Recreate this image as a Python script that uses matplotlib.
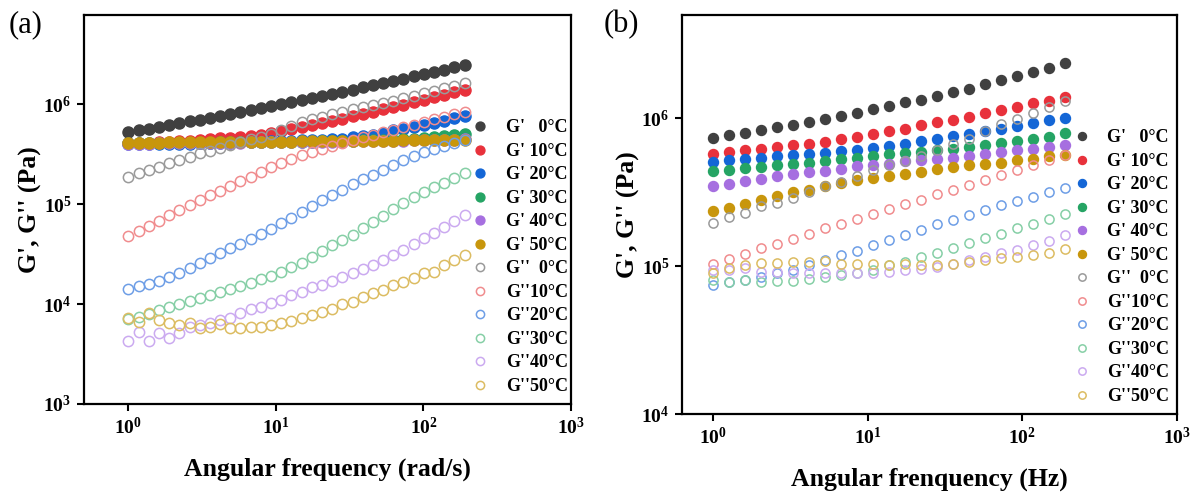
import numpy as np
import matplotlib
matplotlib.use("Agg")
import matplotlib.pyplot as plt
from matplotlib.ticker import FuncFormatter, LogLocator, NullLocator

plt.rcParams['font.family'] = 'Liberation Serif'
plt.rcParams['mathtext.fontset'] = 'custom'
plt.rcParams['mathtext.rm'] = 'Liberation Serif'
plt.rcParams['mathtext.bf'] = 'Liberation Serif:bold'

# frequency points (a: rad/s, b: Hz)
freq_a = [1.00, 1.172, 1.374, 1.611, 1.889, 2.214, 2.596, 3.044, 3.568, 4.183,
          4.904, 5.749, 6.740, 7.902, 9.262, 10.86, 12.73, 14.93, 17.50, 20.51,
          24.04, 28.19, 33.05, 38.74, 45.42, 53.25, 62.42, 73.18, 85.79, 100.6,
          117.9, 138.2, 162.0, 190.0]
freq_b = [1.00, 1.269, 1.611, 2.045, 2.596, 3.296, 4.183, 5.310, 6.741, 8.554,
          10.86, 13.79, 17.50, 22.21, 28.19, 35.78, 45.42, 57.66, 73.18, 92.90,
          117.9, 149.7, 190.0]

# panel (a) storage modulus G'
a_gp_0 = [5.25e5, 5.46e5, 5.69e5, 5.93e5, 6.18e5, 6.44e5, 6.71e5, 7.00e5, 7.31e5, 7.64e5,
          7.98e5, 8.35e5, 8.73e5, 9.14e5, 9.55e5, 1.00e6, 1.05e6, 1.10e6, 1.15e6, 1.21e6,
          1.27e6, 1.33e6, 1.40e6, 1.47e6, 1.55e6, 1.63e6, 1.71e6, 1.80e6, 1.90e6, 2.00e6,
          2.11e6, 2.22e6, 2.35e6, 2.48e6]
a_gp_10 = [4.07e5, 4.07e5, 4.12e5, 4.17e5, 4.22e5, 4.27e5, 4.32e5, 4.37e5, 4.47e5, 4.57e5,
           4.62e5, 4.71e5, 4.81e5, 4.95e5, 5.19e5, 5.43e5, 5.69e5, 5.96e5, 6.24e5, 6.53e5,
           6.84e5, 7.16e5, 7.59e5, 7.98e5, 8.41e5, 8.91e5, 9.38e5, 9.89e5, 1.05e6, 1.11e6,
           1.17e6, 1.24e6, 1.32e6, 1.38e6]
a_gp_20 = [3.98e5, 3.98e5, 3.98e5, 3.98e5, 4.00e5, 4.02e5, 4.04e5, 4.06e5, 4.07e5, 4.09e5,
           4.12e5, 4.15e5, 4.18e5, 4.21e5, 4.24e5, 4.27e5, 4.30e5, 4.33e5, 4.37e5, 4.41e5,
           4.45e5, 4.53e5, 4.65e5, 4.76e5, 4.90e5, 5.19e5, 5.50e5, 5.69e5, 5.89e5, 6.17e5,
           6.46e5, 6.84e5, 7.24e5, 7.67e5]
a_gp_30 = [4.05e5, 4.06e5, 4.07e5, 4.08e5, 4.09e5, 4.10e5, 4.11e5, 4.12e5, 4.13e5, 4.14e5,
           4.15e5, 4.16e5, 4.17e5, 4.18e5, 4.19e5, 4.20e5, 4.21e5, 4.22e5, 4.23e5, 4.24e5,
           4.26e5, 4.28e5, 4.30e5, 4.33e5, 4.36e5, 4.39e5, 4.42e5, 4.44e5, 4.50e5, 4.57e5,
           4.65e5, 4.76e5, 4.90e5, 5.07e5]
a_gp_40 = [4.02e5, 4.03e5, 4.04e5, 4.05e5, 4.06e5, 4.07e5, 4.08e5, 4.09e5, 4.10e5, 4.11e5,
           4.12e5, 4.13e5, 4.14e5, 4.15e5, 4.16e5, 4.17e5, 4.18e5, 4.19e5, 4.20e5, 4.21e5,
           4.22e5, 4.23e5, 4.24e5, 4.25e5, 4.26e5, 4.28e5, 4.30e5, 4.32e5, 4.34e5, 4.36e5,
           4.38e5, 4.40e5, 4.43e5, 4.46e5]
a_gp_50 = [4.10e5, 4.11e5, 4.12e5, 4.13e5, 4.14e5, 4.15e5, 4.16e5, 4.17e5, 4.18e5, 4.19e5,
           4.20e5, 4.21e5, 4.21e5, 4.22e5, 4.22e5, 4.23e5, 4.23e5, 4.24e5, 4.24e5, 4.25e5,
           4.26e5, 4.27e5, 4.28e5, 4.29e5, 4.30e5, 4.31e5, 4.32e5, 4.33e5, 4.34e5, 4.36e5,
           4.37e5, 4.39e5, 4.41e5, 4.43e5]

# panel (a) loss modulus G''
a_gpp_0 = [1.88e5, 2.03e5, 2.20e5, 2.37e5, 2.55e5, 2.75e5, 2.99e5, 3.21e5, 3.43e5, 3.67e5,
           3.94e5, 4.20e5, 4.44e5, 4.73e5, 5.07e5, 5.56e5, 6.10e5, 6.61e5, 7.08e5, 7.50e5,
           7.94e5, 8.38e5, 8.91e5, 9.40e5, 9.77e5, 1.02e6, 1.08e6, 1.14e6, 1.21e6, 1.28e6,
           1.36e6, 1.44e6, 1.52e6, 1.61e6]
a_gpp_10 = [4.79e4, 5.43e4, 6.10e4, 6.84e4, 7.76e4, 8.81e4, 9.77e4, 1.10e5, 1.22e5, 1.36e5,
            1.51e5, 1.70e5, 1.88e5, 2.10e5, 2.33e5, 2.60e5, 2.85e5, 3.09e5, 3.31e5, 3.55e5,
            3.80e5, 4.07e5, 4.37e5, 4.65e5, 4.95e5, 5.25e5, 5.56e5, 5.89e5, 6.24e5, 6.61e5,
            7.03e5, 7.46e5, 7.94e5, 8.38e5]
a_gpp_20 = [1.40e4, 1.50e4, 1.58e4, 1.71e4, 1.85e4, 2.06e4, 2.30e4, 2.55e4, 2.86e4, 3.21e4,
            3.61e4, 3.98e4, 4.44e4, 5.01e4, 5.62e4, 6.41e4, 7.33e4, 8.38e4, 9.55e4, 1.10e5,
            1.23e5, 1.40e5, 1.58e5, 1.77e5, 1.97e5, 2.19e5, 2.45e5, 2.74e5, 3.02e5, 3.31e5,
            3.59e5, 3.85e5, 4.12e5, 4.37e5]
a_gpp_30 = [7.16e3, 7.50e3, 8.04e3, 8.71e3, 9.44e3, 1.00e4, 1.07e4, 1.14e4, 1.23e4, 1.33e4,
            1.43e4, 1.51e4, 1.63e4, 1.78e4, 1.91e4, 2.10e4, 2.34e4, 2.60e4, 2.97e4, 3.43e4,
            3.89e4, 4.37e4, 4.95e4, 5.82e4, 6.65e4, 7.67e4, 8.85e4, 1.02e5, 1.17e5, 1.33e5,
            1.47e5, 1.63e5, 1.81e5, 2.03e5]
a_gpp_40 = [4.30e3, 5.28e3, 4.30e3, 5.16e3, 4.54e3, 5.09e3, 5.93e3, 6.17e3, 6.41e3, 6.92e3,
            7.19e3, 8.07e3, 8.85e3, 9.40e3, 1.03e4, 1.10e4, 1.23e4, 1.33e4, 1.47e4, 1.55e4,
            1.71e4, 1.88e4, 2.06e4, 2.22e4, 2.45e4, 2.75e4, 3.09e4, 3.47e4, 3.98e4, 4.54e4,
            5.09e4, 5.85e4, 6.81e4, 7.76e4]
a_gpp_50 = [7.19e3, 6.65e3, 8.07e3, 6.92e3, 6.41e3, 6.17e3, 6.41e3, 5.71e3, 5.93e3, 6.31e3,
            5.71e3, 5.71e3, 5.85e3, 5.93e3, 6.17e3, 6.41e3, 6.81e3, 7.19e3, 7.76e3, 8.38e3,
            8.85e3, 1.00e4, 1.05e4, 1.17e4, 1.28e4, 1.38e4, 1.55e4, 1.67e4, 1.81e4, 2.03e4,
            2.10e4, 2.45e4, 2.75e4, 3.09e4]

# panel (b) storage modulus G'
b_gp_0 = [7.36e5, 7.68e5, 8.00e5, 8.34e5, 8.69e5, 9.06e5, 9.50e5, 9.89e5, 1.04e6, 1.09e6,
          1.15e6, 1.21e6, 1.28e6, 1.34e6, 1.42e6, 1.51e6, 1.59e6, 1.70e6, 1.81e6, 1.92e6,
          2.06e6, 2.20e6, 2.37e6]
b_gp_10 = [5.78e5, 5.92e5, 6.08e5, 6.24e5, 6.40e5, 6.60e5, 6.75e5, 6.96e5, 7.24e5, 7.50e5,
           7.86e5, 8.20e5, 8.53e5, 8.97e5, 9.40e5, 9.80e5, 1.02e6, 1.08e6, 1.13e6, 1.19e6,
           1.26e6, 1.32e6, 1.39e6]
b_gp_20 = [5.07e5, 5.20e5, 5.34e5, 5.43e5, 5.54e5, 5.68e5, 5.78e5, 5.86e5, 6.01e5, 6.15e5,
           6.34e5, 6.54e5, 6.75e5, 7.05e5, 7.29e5, 7.56e5, 7.88e5, 8.21e5, 8.52e5, 8.83e5,
           9.29e5, 9.69e5, 1.01e6]
b_gp_30 = [4.41e5, 4.50e5, 4.64e5, 4.69e5, 4.81e5, 4.94e5, 4.99e5, 5.12e5, 5.28e5, 5.43e5,
           5.54e5, 5.71e5, 5.83e5, 5.94e5, 6.08e5, 6.24e5, 6.40e5, 6.57e5, 6.78e5, 6.99e5,
           7.21e5, 7.50e5, 7.92e5]
b_gp_40 = [3.47e5, 3.62e5, 3.75e5, 3.91e5, 4.06e5, 4.18e5, 4.34e5, 4.42e5, 4.57e5, 4.74e5,
           4.81e5, 4.94e5, 5.12e5, 5.20e5, 5.34e5, 5.43e5, 5.54e5, 5.71e5, 5.92e5, 6.08e5,
           6.24e5, 6.40e5, 6.57e5]
b_gp_50 = [2.36e5, 2.49e5, 2.65e5, 2.82e5, 2.99e5, 3.15e5, 3.30e5, 3.47e5, 3.65e5, 3.81e5,
           3.95e5, 4.08e5, 4.18e5, 4.35e5, 4.52e5, 4.69e5, 4.81e5, 4.89e5, 4.99e5, 5.20e5,
           5.34e5, 5.54e5, 5.62e5]

# panel (b) loss modulus G''
b_gpp_0 = [1.97e5, 2.15e5, 2.29e5, 2.54e5, 2.69e5, 2.91e5, 3.18e5, 3.47e5, 3.71e5, 4.06e5,
           4.45e5, 4.81e5, 5.16e5, 5.58e5, 6.08e5, 6.67e5, 7.29e5, 8.17e5, 9.11e5, 9.95e5,
           1.09e6, 1.19e6, 1.32e6]
b_gpp_10 = [1.03e5, 1.11e5, 1.21e5, 1.32e5, 1.41e5, 1.53e5, 1.66e5, 1.80e5, 1.94e5, 2.10e5,
            2.27e5, 2.43e5, 2.62e5, 2.82e5, 3.07e5, 3.30e5, 3.53e5, 3.81e5, 4.12e5, 4.45e5,
            4.81e5, 5.20e5, 5.62e5]
b_gpp_20 = [7.44e4, 7.83e4, 8.04e4, 8.47e4, 9.01e4, 9.40e4, 1.02e5, 1.10e5, 1.19e5, 1.27e5,
            1.39e5, 1.50e5, 1.62e5, 1.75e5, 1.92e5, 2.05e5, 2.21e5, 2.39e5, 2.58e5, 2.76e5,
            2.94e5, 3.18e5, 3.40e5]
b_gpp_30 = [8.04e4, 7.83e4, 8.04e4, 7.83e4, 7.92e4, 7.96e4, 8.13e4, 8.39e4, 8.69e4, 8.97e4,
            9.40e4, 1.02e5, 1.07e5, 1.16e5, 1.23e5, 1.32e5, 1.44e5, 1.54e5, 1.66e5, 1.80e5,
            1.93e5, 2.10e5, 2.27e5]
b_gpp_40 = [9.40e4, 9.40e4, 9.65e4, 9.15e4, 9.15e4, 9.01e4, 9.01e4, 9.01e4, 8.93e4, 9.01e4,
            9.01e4, 9.15e4, 9.40e4, 9.50e4, 9.89e4, 1.04e5, 1.10e5, 1.16e5, 1.23e5, 1.28e5,
            1.39e5, 1.48e5, 1.62e5]
b_gpp_50 = [9.01e4, 9.65e4, 1.02e5, 1.05e5, 1.05e5, 1.07e5, 1.07e5, 1.09e5, 1.04e5, 1.04e5,
            1.04e5, 1.02e5, 1.04e5, 1.02e5, 1.02e5, 1.04e5, 1.07e5, 1.10e5, 1.13e5, 1.15e5,
            1.19e5, 1.22e5, 1.30e5]

gp_labels = ["G'   0\u00b0C", "G' 10\u00b0C", "G' 20\u00b0C", "G' 30\u00b0C", "G' 40\u00b0C", "G' 50\u00b0C"]
gpp_labels = ["G''  0\u00b0C", "G''10\u00b0C", "G''20\u00b0C", "G''30\u00b0C", "G''40\u00b0C", "G''50\u00b0C"]
gp_colors = ['#404040', '#e8313b', '#1466d6', '#25a464', '#a66fe0', '#c8960c']
gpp_colors = ['#9a9a9a', '#f08c8e', '#6e9ee6', '#86cfa6', '#cbaaf0', '#dcbc62']


def tick_fmt(v, pos):
    return r'$\mathbf{10^{%d}}$' % int(round(np.log10(v)))


def draw_panel(ax, freq, gp, gpp, ylim, xlim, xlabel, ms, leg_anchor, xpad):
    for y, c, lab in zip(gp, gp_colors, gp_labels):
        ax.plot(freq, y, 'o', color=c, ms=ms, mec=c, label=lab)
    for y, c, lab in zip(gpp, gpp_colors, gpp_labels):
        ax.plot(freq, y, 'o', mfc='none', mec=c, ms=ms - 0.6, mew=1.1, label=lab)
    ax.set_xscale('log')
    ax.set_yscale('log')
    ax.set_xlim(*xlim)
    ax.set_ylim(*ylim)
    ax.xaxis.set_major_locator(LogLocator(base=10, numticks=10))
    ax.yaxis.set_major_locator(LogLocator(base=10, numticks=10))
    ax.xaxis.set_minor_locator(NullLocator())
    ax.yaxis.set_minor_locator(NullLocator())
    ax.xaxis.set_major_formatter(FuncFormatter(tick_fmt))
    ax.yaxis.set_major_formatter(FuncFormatter(tick_fmt))
    ax.tick_params(direction='out', length=5, width=1.5, labelsize=14, pad=4)
    for s in ax.spines.values():
        s.set_linewidth(1.6)
    ax.set_xlabel(xlabel, fontsize=18.5, fontweight='bold', labelpad=xpad)
    ax.set_ylabel("G', G'' (Pa)", fontsize=18.5, fontweight='bold', labelpad=1)
    leg = ax.legend(loc='lower left', bbox_to_anchor=leg_anchor, frameon=False,
                    fontsize=13, handlelength=1.0, handletextpad=0.9,
                    labelspacing=0.36, borderpad=0, numpoints=1, markerscale=0.8)
    for t in leg.get_texts():
        t.set_fontweight('bold')


fig = plt.figure(figsize=(11.95, 4.92), dpi=100)
ax_a = fig.add_axes([84 / 1195, 1 - 404 / 492, 487 / 1195, 389 / 492])
ax_b = fig.add_axes([682 / 1195, 1 - 414 / 492, 495 / 1195, 399 / 492])

draw_panel(ax_a, freq_a,
           [a_gp_0, a_gp_10, a_gp_20, a_gp_30, a_gp_40, a_gp_50],
           [a_gpp_0, a_gpp_10, a_gpp_20, a_gpp_30, a_gpp_40, a_gpp_50],
           (1e3, 7.8e6), (0.5, 1000), 'Angular frequency (rad/s)', 8.0, (0.777, 0.0), 14)
draw_panel(ax_b, freq_b,
           [b_gp_0, b_gp_10, b_gp_20, b_gp_30, b_gp_40, b_gp_50],
           [b_gpp_0, b_gpp_10, b_gpp_20, b_gpp_30, b_gpp_40, b_gpp_50],
           (1e4, 5e6), (0.63, 1000), 'Angular frenquency (Hz)', 7.2, (0.772, 0.0), 14)

fig.text(0.007, 0.98, '(a)', fontsize=22, va='top', ha='left')
fig.text(0.505, 0.98, '(b)', fontsize=22, va='top', ha='left')

fig.savefig('out.png', dpi=100)
